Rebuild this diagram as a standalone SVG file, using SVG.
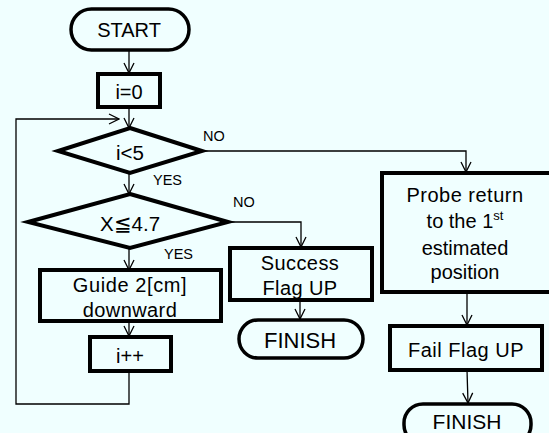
<svg xmlns="http://www.w3.org/2000/svg" width="549" height="433" viewBox="0 0 549 433">
<defs>
<style>
.t{font-family:"Liberation Sans",Arial,sans-serif;fill:#000;text-anchor:middle}
.n{fill:none;stroke:#000;stroke-width:4}
.term{fill:none;stroke:#000;stroke-width:3.5}
.c{fill:none;stroke:#000;stroke-width:1.3}
.lbl{font-family:"Liberation Sans",Arial,sans-serif;font-size:14.5px;fill:#000}
</style>
<marker id="a" viewBox="0 0 12 12" refX="11" refY="6" markerWidth="12" markerHeight="12" markerUnits="userSpaceOnUse" orient="auto">
<path d="M1,1 L11,6 L1,11" fill="none" stroke="#000" stroke-width="1.3"/>
</marker>
</defs>
<rect width="549" height="433" fill="#F0FFFF"/>
<g id="connectors">
<line class="c" x1="129" y1="51" x2="129" y2="73" marker-end="url(#a)"/>
<line class="c" x1="129" y1="107" x2="129" y2="128" marker-end="url(#a)"/>
<polyline class="c" points="129,371 129,404 16,404 16,119 119,119" marker-end="url(#a)"/>
<polyline class="c" points="202,151 466,151 466,172" marker-end="url(#a)"/>
<line class="c" x1="129" y1="173" x2="129" y2="194" marker-end="url(#a)"/>
<polyline class="c" points="228,222 301,222 301,247" marker-end="url(#a)"/>
<line class="c" x1="129" y1="248" x2="129" y2="270" marker-end="url(#a)"/>
<line class="c" x1="129" y1="321" x2="129" y2="336" marker-end="url(#a)"/>
<line class="c" x1="300" y1="301" x2="300" y2="319" marker-end="url(#a)"/>
<line class="c" x1="467" y1="292" x2="467" y2="325" marker-end="url(#a)"/>
<line class="c" x1="467" y1="370" x2="468" y2="403" marker-end="url(#a)"/>
<text class="lbl" x="203" y="141">NO</text>
<text class="lbl" x="153" y="185">YES</text>
<text class="lbl" x="233" y="207">NO</text>
<text class="lbl" x="164" y="259">YES</text>
</g>
<g id="start">
<rect class="term" x="71" y="9" width="118" height="41" rx="20.5"/>
<text class="t" x="129" y="37" font-size="20">START</text>
</g>
<g id="init">
<rect class="n" x="98" y="74" width="62" height="33"/>
<text class="t" x="129" y="99" font-size="20">i=0</text>
</g>
<g id="cond1">
<polygon class="n" points="130,128 202,151 130,173 58,151"/>
<text class="t" x="130" y="160" font-size="20.5">i&lt;5</text>
</g>
<g id="cond2">
<polygon class="n" points="130,194 228,222 130,248 28,222"/>
<text class="t" x="130" y="231" font-size="20.5">X≦4.7</text>
</g>
<g id="guide">
<rect class="n" x="40" y="270" width="181" height="51"/>
<text class="t" x="130" y="292" font-size="20" letter-spacing="0.6">Guide 2[cm]</text>
<text class="t" x="130" y="317" font-size="20" letter-spacing="0.4">downward</text>
</g>
<g id="inc">
<rect class="n" x="90" y="337" width="81" height="34"/>
<text class="t" x="130" y="363" font-size="20">i++</text>
</g>
<g id="success">
<rect class="n" x="230" y="248" width="142" height="52"/>
<text class="t" x="300" y="270" font-size="20" letter-spacing="0.4">Success</text>
<text class="t" x="300" y="295" font-size="20" letter-spacing="0.4">Flag UP</text>
</g>
<g id="finish1">
<rect class="term" x="239" y="320" width="124" height="38" rx="19"/>
<text class="t" x="300" y="348" font-size="22">FINISH</text>
</g>
<g id="probe">
<rect class="n" x="382" y="173" width="172" height="119"/>
<text class="t" x="465" y="202" font-size="20" letter-spacing="0.5">Probe return</text>
<text class="t" x="465" y="228" font-size="20">to the 1<tspan font-size="13" dy="-8">st</tspan></text>
<text class="t" x="465" y="255" font-size="20">estimated</text>
<text class="t" x="465" y="279" font-size="20">position</text>
</g>
<g id="fail">
<rect class="n" x="390" y="326" width="152" height="44"/>
<text class="t" x="466" y="357" font-size="20" letter-spacing="0.5">Fail Flag UP</text>
</g>
<g id="finish2">
<rect class="term" x="404" y="404" width="127" height="40" rx="19"/>
<text class="t" x="467" y="429" font-size="21">FINISH</text>
</g>
</svg>
